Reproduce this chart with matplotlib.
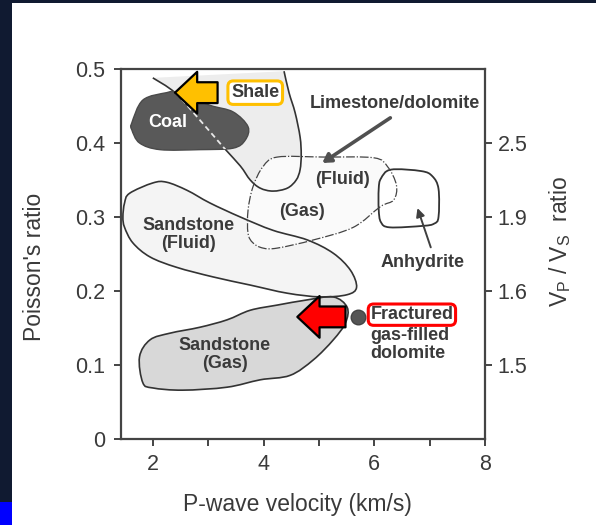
import numpy as np
import matplotlib
matplotlib.use('Agg')
import matplotlib.pyplot as plt
from matplotlib.path import Path
from matplotlib.patches import PathPatch, FancyArrowPatch, Rectangle, ArrowStyle

plt.rcParams['font.family'] = ['Liberation Sans', 'DejaVu Sans']
plt.rcParams['mathtext.fontset'] = 'custom'
plt.rcParams['mathtext.rm'] = 'Liberation Sans'
plt.rcParams['mathtext.it'] = 'Liberation Sans'

# outlines of each lithology field: P-wave velocity (km/s) vs Poisson's ratio
coal_vp = [1.62, 1.82, 2.25, 2.43, 3.03, 3.45, 3.72, 3.67, 3.45, 2.85, 2.13, 1.76, 1.62]
coal_pr = [0.427, 0.458, 0.468, 0.468, 0.451, 0.442, 0.422, 0.404, 0.393, 0.391, 0.391, 0.400, 0.418]

shale_vp = [2.00, 2.40, 2.85, 3.29, 3.58, 3.76, 3.94, 4.17, 4.43, 4.59, 4.66, 4.68, 4.66, 4.57, 4.46, 4.37]
shale_pr = [0.488, 0.468, 0.431, 0.393, 0.369, 0.350, 0.339, 0.335, 0.339, 0.350, 0.364, 0.384, 0.408, 0.441, 0.468, 0.497]

lime_vp = [4.25, 5.08, 5.99, 6.24, 6.40, 6.35, 6.11, 5.62, 4.90, 4.25, 3.99, 3.81, 3.72, 3.72, 3.81, 3.99]
lime_pr = [0.381, 0.381, 0.380, 0.368, 0.343, 0.323, 0.314, 0.286, 0.269, 0.258, 0.258, 0.265, 0.278, 0.309, 0.341, 0.368]

anhy_vp = [6.12, 6.30, 6.85, 7.05, 7.16, 7.16, 7.08, 6.88, 6.28, 6.12, 6.08, 6.08]
anhy_pr = [0.352, 0.364, 0.362, 0.355, 0.338, 0.300, 0.291, 0.288, 0.286, 0.293, 0.310, 0.338]

ssf_vp = [1.58, 2.00, 2.25, 2.62, 3.03, 3.58, 4.17, 4.79, 5.26, 5.57, 5.68, 5.51, 5.03, 4.43, 3.76, 3.09, 2.43, 1.95, 1.64, 1.49, 1.46, 1.49]
ssf_pr = [0.332, 0.346, 0.347, 0.336, 0.319, 0.300, 0.282, 0.269, 0.251, 0.228, 0.205, 0.195, 0.192, 0.197, 0.208, 0.219, 0.232, 0.246, 0.265, 0.286, 0.300, 0.319]

ssg_vp = [1.76, 1.95, 2.31, 2.85, 3.34, 3.76, 4.25, 4.79, 5.26, 5.51, 5.48, 5.26, 4.90, 4.48, 3.94, 3.34, 2.54, 2.00, 1.82]
ssg_pr = [0.111, 0.134, 0.143, 0.151, 0.161, 0.174, 0.181, 0.188, 0.192, 0.178, 0.157, 0.134, 0.107, 0.086, 0.080, 0.070, 0.066, 0.069, 0.076]

frac_dol_vp, frac_dol_pr = 5.70, 0.165

x_ticks = [2, 3, 4, 5, 6, 7, 8]
x_labels = ['2', '', '4', '', '6', '', '8']
y_ticks = [0, 0.1, 0.2, 0.3, 0.4, 0.5]
y_labels = ['0', '0.1', '0.2', '0.3', '0.4', '0.5']
ratio_ticks = [0.4, 0.3, 0.2, 0.1]
ratio_labels = ['2.5', '1.9', '1.6', '1.5']

INK = '#3a3a3a'
LINE = '#333333'


def smooth_path(xs, ys, closed=True):
    # Catmull-Rom through the outline points, handed to matplotlib as cubic Beziers
    pts = np.column_stack([xs, ys]).astype(float)
    n = len(pts)
    if closed:
        ext = np.vstack([pts[-1], pts, pts[0], pts[1]])
        segs = n
    else:
        ext = np.vstack([pts[0], pts, pts[-1]])
        segs = n - 1
    verts = [ext[1]]
    codes = [Path.MOVETO]
    for i in range(1, segs + 1):
        p0, p1, p2, p3 = ext[i - 1], ext[i], ext[i + 1], ext[i + 2]
        verts += [p1 + (p2 - p0) / 6, p2 - (p3 - p1) / 6, p2]
        codes += [Path.CURVE4] * 3
    if closed:
        verts.append(ext[1])
        codes.append(Path.CLOSEPOLY)
    return Path(verts, codes)


def closed_from_open(path):
    return Path(list(path.vertices) + [path.vertices[0]], list(path.codes) + [Path.CLOSEPOLY])


fig = plt.figure(figsize=(5.96, 5.25), dpi=100, facecolor='#101a31')
fig.patches.append(Rectangle((12 / 596, 0), 1, 522 / 525, transform=fig.transFigure,
                             fc='white', ec='none', zorder=-10))
fig.patches.append(Rectangle((0, 0), 12 / 596, 23 / 525, transform=fig.transFigure,
                             fc='#0000ff', ec='none', zorder=-10))

ax = fig.add_axes([0.2025, 0.1638, 0.6113, 0.7048])
ax.set_facecolor('none')
ax.set_xlim(1.42, 8)
ax.set_ylim(0, 0.5)

shale_line = smooth_path(shale_vp, shale_pr, closed=False)
lime_path = smooth_path(lime_vp, lime_pr)
anhy_path = smooth_path(anhy_vp, anhy_pr)
ssf_path = smooth_path(ssf_vp, ssf_pr)
ssg_path = smooth_path(ssg_vp, ssg_pr)
coal_path = smooth_path(coal_vp, coal_pr)

# fills
ax.add_patch(PathPatch(closed_from_open(shale_line), fc='#ededed', ec='none', zorder=1))
ax.add_patch(PathPatch(ssf_path, fc='#f4f4f4', ec='none', zorder=1))
ax.add_patch(PathPatch(lime_path, fc='#fafafa', ec='none', zorder=1.1))
ax.add_patch(PathPatch(anhy_path, fc='white', ec='none', zorder=1.1))
ax.add_patch(PathPatch(ssg_path, fc='#d8d8d8', ec='none', zorder=1.2))

# outlines
ax.add_patch(PathPatch(shale_line, fc='none', ec=LINE, lw=1.2, zorder=2))
ax.add_patch(PathPatch(ssf_path, fc='none', ec=LINE, lw=1.2, zorder=2))
ax.add_patch(PathPatch(ssg_path, fc='none', ec=LINE, lw=1.2, zorder=2))
ax.add_patch(PathPatch(anhy_path, fc='none', ec=LINE, lw=1.3, zorder=2))
ax.add_patch(PathPatch(lime_path, fc='none', ec='#444444', lw=0.9,
                       ls=(0, (7, 1.5, 1, 1.5)), zorder=2))

coal = PathPatch(coal_path, fc='#595959', ec='#4a4a4a', lw=1.0, zorder=3)
ax.add_patch(coal)
shale_dash = PathPatch(shale_line, fc='none', ec='#e8e8e8', lw=1.3, ls=(0, (3, 2)), zorder=3.5)
ax.add_patch(shale_dash)
shale_dash.set_clip_path(coal)

ax.plot(frac_dol_vp, frac_dol_pr, 'o', ms=10.5, color='#555555', mec='#444444', zorder=4)

# pointers
ax.annotate('', xy=(5.06, 0.373), xytext=(6.29, 0.434),
            arrowprops=dict(arrowstyle='-|>,head_length=0.5,head_width=0.3', lw=2.6,
                            color='#505050', shrinkA=0, shrinkB=0), zorder=4)
ax.annotate('', xy=(6.78, 0.312), xytext=(7.02, 0.259),
            arrowprops=dict(arrowstyle='-|>,head_length=0.5,head_width=0.25', lw=1.4,
                            color='#404040', shrinkA=0, shrinkB=0), zorder=4)

# field labels
lab = dict(fontsize=13, fontweight='bold', color=INK, ha='center', va='center', zorder=5)
ax.text(2.27, 0.428, 'Coal', **{**lab, 'color': 'white'})
ax.text(3.85, 0.468, 'Shale', **lab,
        bbox=dict(boxstyle='round,pad=0.18,rounding_size=0.3', fc='white', ec='#ffc000', lw=2.2))
ax.text(6.38, 0.454, 'Limestone/dolomite', **lab)
ax.text(5.42, 0.350, '(Fluid)', **lab)
ax.text(4.70, 0.307, '(Gas)', **lab)
ax.text(6.87, 0.238, 'Anhydrite', **lab)
ax.text(2.64, 0.276, 'Sandstone\n(Fluid)', linespacing=1.1, **lab)
ax.text(3.30, 0.114, 'Sandstone\n(Gas)', linespacing=1.1, **lab)
ax.text(5.93, 0.168, 'Fractured', **{**lab, 'ha': 'left'},
        bbox=dict(boxstyle='round,pad=0.12,rounding_size=0.3', fc='white', ec='#ff0000', lw=2.2))
ax.text(5.93, 0.151, 'gas-filled\ndolomite', linespacing=1.05, **{**lab, 'ha': 'left', 'va': 'top'})

# highlight arrows
block = ArrowStyle.Simple(head_length=16, head_width=30, tail_width=15)
ax.add_patch(FancyArrowPatch((3.17, 0.468), (2.40, 0.468), arrowstyle=block, mutation_scale=1,
                             fc='#ffc000', ec='black', lw=1.6, shrinkA=0, shrinkB=0, zorder=6))
ax.add_patch(FancyArrowPatch((5.48, 0.165), (4.61, 0.165), arrowstyle=block, mutation_scale=1,
                             fc='#ff0000', ec='black', lw=1.6, shrinkA=0, shrinkB=0, zorder=6))

# axes styling
for side in ['left', 'bottom', 'right', 'top']:
    ax.spines[side].set_color('#444444')
    ax.spines[side].set_linewidth(1.6)
ax.set_xticks(x_ticks)
ax.set_xticklabels(x_labels)
ax.set_yticks(y_ticks)
ax.set_yticklabels(y_labels)
ax.tick_params(direction='out', length=5, width=1.4, color='#444444', labelsize=15.5,
               labelcolor='#3a3a3a', pad=6)

ax2 = ax.twinx()
ax2.set_ylim(0, 0.5)
ax2.set_yticks(ratio_ticks)
ax2.set_yticklabels(ratio_labels)
ax2.tick_params(direction='out', length=5, width=1.4, color='#444444', labelsize=15.5,
                labelcolor='#3a3a3a', pad=4)
for s in ax2.spines.values():
    s.set_visible(False)

fig.text(297 / 596, 1 - 504 / 525, 'P-wave velocity (km/s)', fontsize=16.5, color='#3a3a3a',
         ha='center', va='center')
fig.text(35 / 596, 1 - 267 / 525, "Poisson's ratio", fontsize=16.5, color='#3a3a3a',
         ha='center', va='center', rotation=90)
fig.text(560 / 596, 1 - 242 / 525, r'$\mathregular{V_P\ /\ V_S}$  ratio', fontsize=16.5,
         color='#3a3a3a', ha='center', va='center', rotation=90)

fig.savefig('out.png', dpi=100, facecolor=fig.get_facecolor())
